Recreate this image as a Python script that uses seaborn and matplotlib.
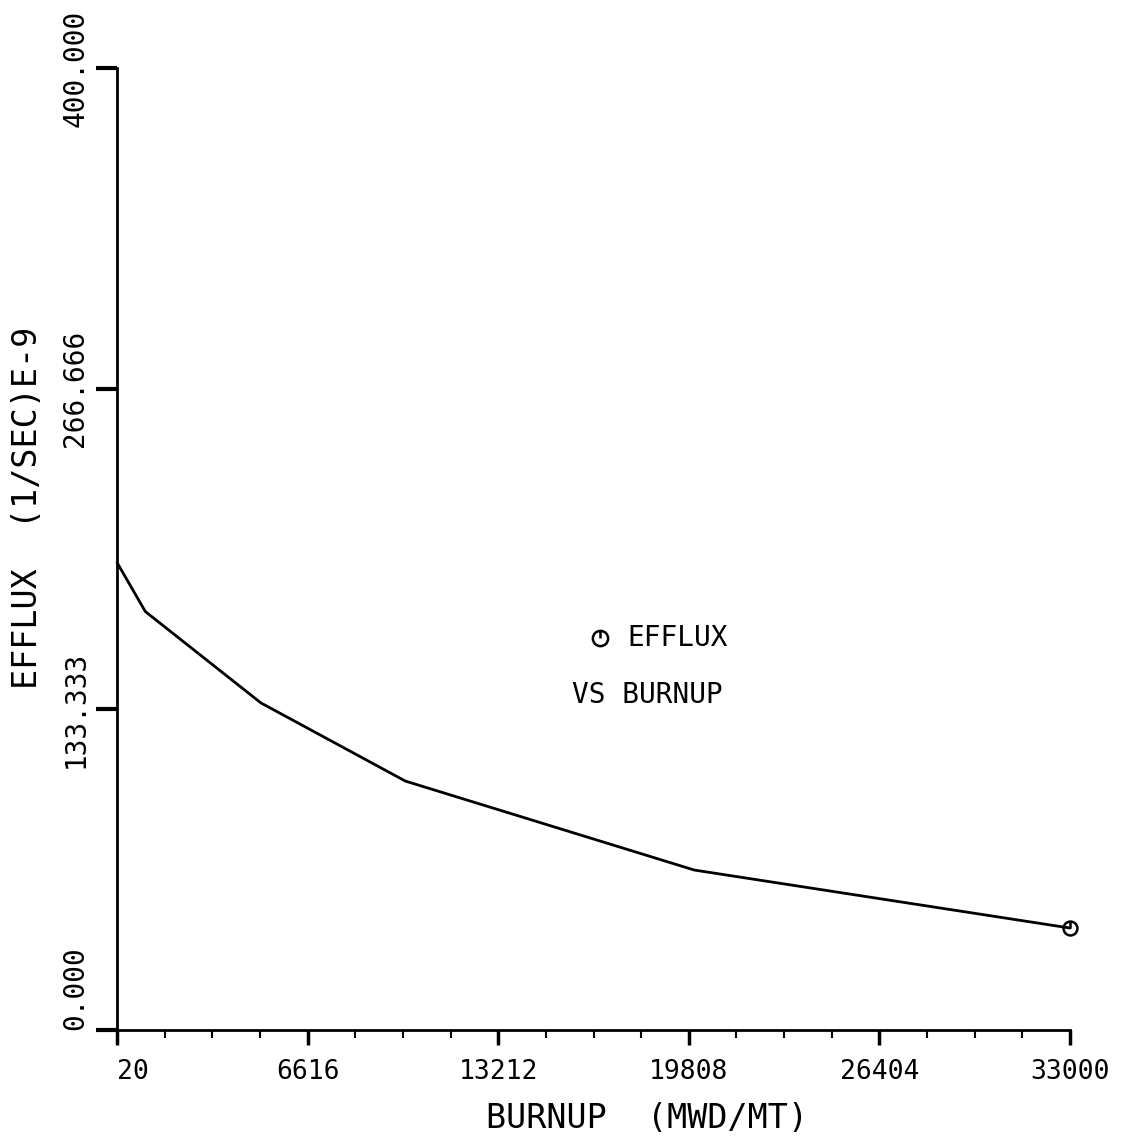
import numpy as np
import pandas as pd
import matplotlib
matplotlib.use("Agg")
import matplotlib.pyplot as plt
from matplotlib.path import Path
from matplotlib.ticker import FixedLocator
import seaborn as sns

# Efflux rate as a function of fuel burnup
burnup = [20, 1000, 5000, 10000, 20000, 33000]          # MWD/MT
efflux = [194.4, 174.0, 136.0, 103.5, 66.5, 42.4]       # (1/SEC) E-9

x_ticks = [20, 6616, 13212, 19808, 26404, 33000]
x_tick_labels = ["20", "6616", "13212", "19808", "26404", "33000"]
y_ticks = [0.0, 133.333, 266.666, 400.0]
y_tick_labels = ["0.000", "133.333", "266.666", "400.000"]

x_label = "BURNUP  (MWD/MT)"
y_label = "EFFLUX  (1/SEC)E-9"
legend_lines = ["EFFLUX", "VS BURNUP"]

sns.set_style("ticks")
plt.rcParams["font.family"] = ["DejaVu Sans Mono", "DejaVu Sans"]

df = pd.DataFrame({"burnup": burnup, "efflux": efflux})

# plotter symbol: open circle with a stroke from its top to its centre
symbol = Path.make_compound_path(
    Path.unit_circle(),
    Path([[0.0, 0.0], [0.0, 1.0]], [Path.MOVETO, Path.LINETO]),
)

fig = plt.figure(figsize=(11.23, 11.40), dpi=100)
ax = fig.add_axes([117 / 1123, 1 - 1030 / 1140, (1070 - 117) / 1123, (1030 - 68) / 1140])

sns.lineplot(
    data=df, x="burnup", y="efflux", ax=ax, color="black", linewidth=2.0,
    marker=symbol, markevery=[len(burnup) - 1], markersize=10,
    markerfacecolor="none", markeredgecolor="black", markeredgewidth=1.8,
    clip_on=False, legend=False,
)

ax.set_xlim(x_ticks[0], x_ticks[-1])
ax.set_ylim(y_ticks[0], y_ticks[-1])

ax.set_xticks(x_ticks)
ax.set_xticklabels(x_tick_labels, fontsize=19)
ax.xaxis.set_minor_locator(FixedLocator(np.linspace(x_ticks[0], x_ticks[-1], 21)))
ax.set_yticks(y_ticks)
ax.set_yticklabels(y_tick_labels, fontsize=20, rotation=90, va="center")

# keep the origin labels clear of each other
ax.get_xticklabels()[0].set_ha("left")
ax.get_yticklabels()[0].set_va("bottom")

ax.tick_params(axis="x", which="major", direction="out", length=11, width=2.5, pad=10, colors="black")
ax.tick_params(axis="x", which="minor", direction="out", length=6, width=1.5, colors="black")
ax.tick_params(axis="y", which="major", direction="out", length=15, width=3, pad=5, colors="black")

for side in ("top", "right"):
    ax.spines[side].set_visible(False)
for side in ("left", "bottom"):
    ax.spines[side].set_linewidth(2)
    ax.spines[side].set_color("black")

ax.set_xlabel(x_label, fontsize=24, va="center", color="black")
ax.xaxis.set_label_coords(0.556, -0.0915)
ax.set_ylabel(y_label, fontsize=24, va="center", color="black")
ax.yaxis.set_label_coords(-0.0934, 0.5426)

# legend block inside the plot area
ax.plot([0.507], [0.4075], transform=ax.transAxes, marker=symbol, markersize=11,
        markerfacecolor="none", markeredgecolor="black", markeredgewidth=1.8,
        linestyle="none", clip_on=False)
ax.text(0.536, 0.4075, legend_lines[0], transform=ax.transAxes, fontsize=20,
        ha="left", va="center", color="black")
ax.text(0.4774, 0.348, legend_lines[1], transform=ax.transAxes, fontsize=20,
        ha="left", va="center", color="black")

fig.savefig("out.png", dpi=100, facecolor="white")
